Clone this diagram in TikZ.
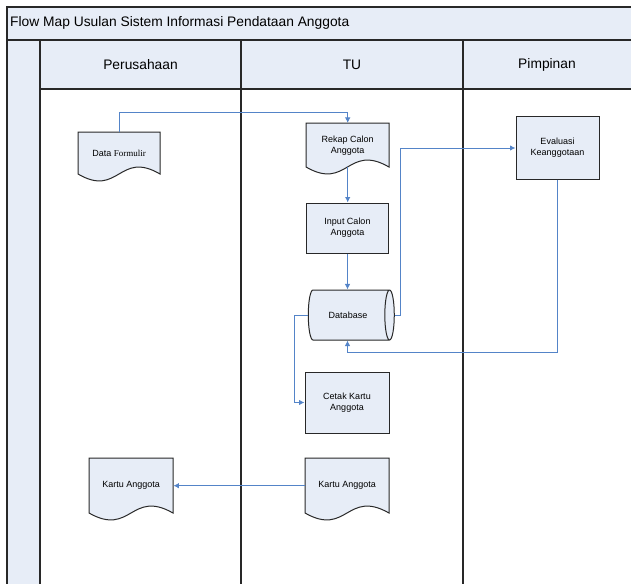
\documentclass[tikz,border=0pt]{standalone}
\usepackage{fontspec}
\setmainfont{Liberation Sans}
\newfontfamily\formfont{Liberation Serif}
\usetikzlibrary{arrows.meta,shapes.geometric}
\definecolor{lanefill}{RGB}{231,237,247}
\definecolor{flowblue}{RGB}{84,132,200}
\definecolor{edgegray}{RGB}{40,40,40}

\tikzset{
  frame/.style={line width=1.1pt,draw=edgegray},
  lanehead/.style={inner sep=0pt,font=\fontsize{13.8}{16}\selectfont},
  proc/.style={draw=edgegray,line width=1pt,fill=lanefill,inner sep=1pt,align=center,font=\fontsize{9}{11}\selectfont},
  doctext/.style={inner sep=1pt,align=center,anchor=north west,font=\fontsize{9}{11}\selectfont},
  docline/.style={draw=edgegray,line width=1pt,fill=lanefill},
  store/.style={cylinder,shape border rotate=0,aspect=1.1,draw=edgegray,line width=1pt,fill=lanefill,inner sep=1pt,font=\fontsize{9}{11}\selectfont},
  flow/.style={draw=flowblue,line width=0.9pt,-{Latex[length=5.5pt,width=5.5pt]}},
}

% name, x, y, width, height, text
\newcommand{\docnode}[6]{%
  \draw[docline] (#2,#3) -- ({#2+#4},#3) -- ({#2+#4},{#3+#5})
    .. controls ({#2+0.5*#4},{#3+#5-24}) and ({#2+0.5*#4},{#3+#5+24}) .. (#2,{#3+#5}) -- cycle;
  \node[doctext,minimum width=#4,minimum height=#5] (#1) at (#2,#3) {#6};
}

\begin{document}
\begin{tikzpicture}[x=1pt,y=-1pt,>=Stealth]
        \useasboundingbox (0,0) rectangle (631,583);
        % swimlane frame
        \fill[lanefill] (7,7) rectangle (640,89);
        \fill[lanefill] (7,89) rectangle (40,590);
        \draw[frame] (640,7) -- (7,7) -- (7,590);
        \draw[frame] (7,40) -- (640,40);
        \draw[frame] (40,89) -- (640,89);
        \draw[frame] (40,40) -- (40,590);
        \draw[frame] (241,40) -- (241,590);
        \draw[frame] (463,40) -- (463,590);
        \node[lanehead,anchor=west] (title) at (10,23) {Flow Map Usulan Sistem Informasi Pendataan Anggota};
        \node[lanehead] (hperu) at (140.5,65) {Perusahaan};
        \node[lanehead] (htu) at (352,65) {TU};
        \node[lanehead] (hpimp) at (547,65) {Pimpinan};
        % shapes
        \docnode{datafor}{78}{132}{82}{42}{Data {\formfont Formulir}}
        \docnode{rekap}{306}{123}{83}{44}{Rekap Calon\\Anggota}
        \node[proc,minimum width=82,minimum height=50] (input) at (347.5,228) {Input Calon\\Anggota};
        \node[store,minimum width=50,minimum height=86] (db) at (348,315) {Database};
        \node[proc,minimum width=84,minimum height=61] (cetak) at (347,402.5) {Cetak Kartu\\Anggota};
        \node[proc,minimum width=83,minimum height=62] (eval) at (557.5,148) {Evaluasi\\Keanggotaan};
        \docnode{kartut}{305}{458}{84}{55}{Kartu Anggota}
        \docnode{kartup}{89}{458}{84}{55}{Kartu Anggota}
        % connectors
        \draw[flow] (datafor.north) -- ++(0,-20) -| (rekap.north);
        \draw[flow] (rekap.south) -- (rekap.south |- input.north);
        \draw[flow] (input.south) -- (input.south |- db.north);
        \draw[flow] (db.east) -- ++(6,0) |- (eval.west);
        \draw[flow] (eval.south) -- ++(0,173) -| (input.south |- db.south);
        \draw[flow] (db.west) -- ++(-13,0) |- (cetak.west);
        \draw[flow] (kartut.west) -- (kartup.east);
    \end{tikzpicture}
\end{document}
